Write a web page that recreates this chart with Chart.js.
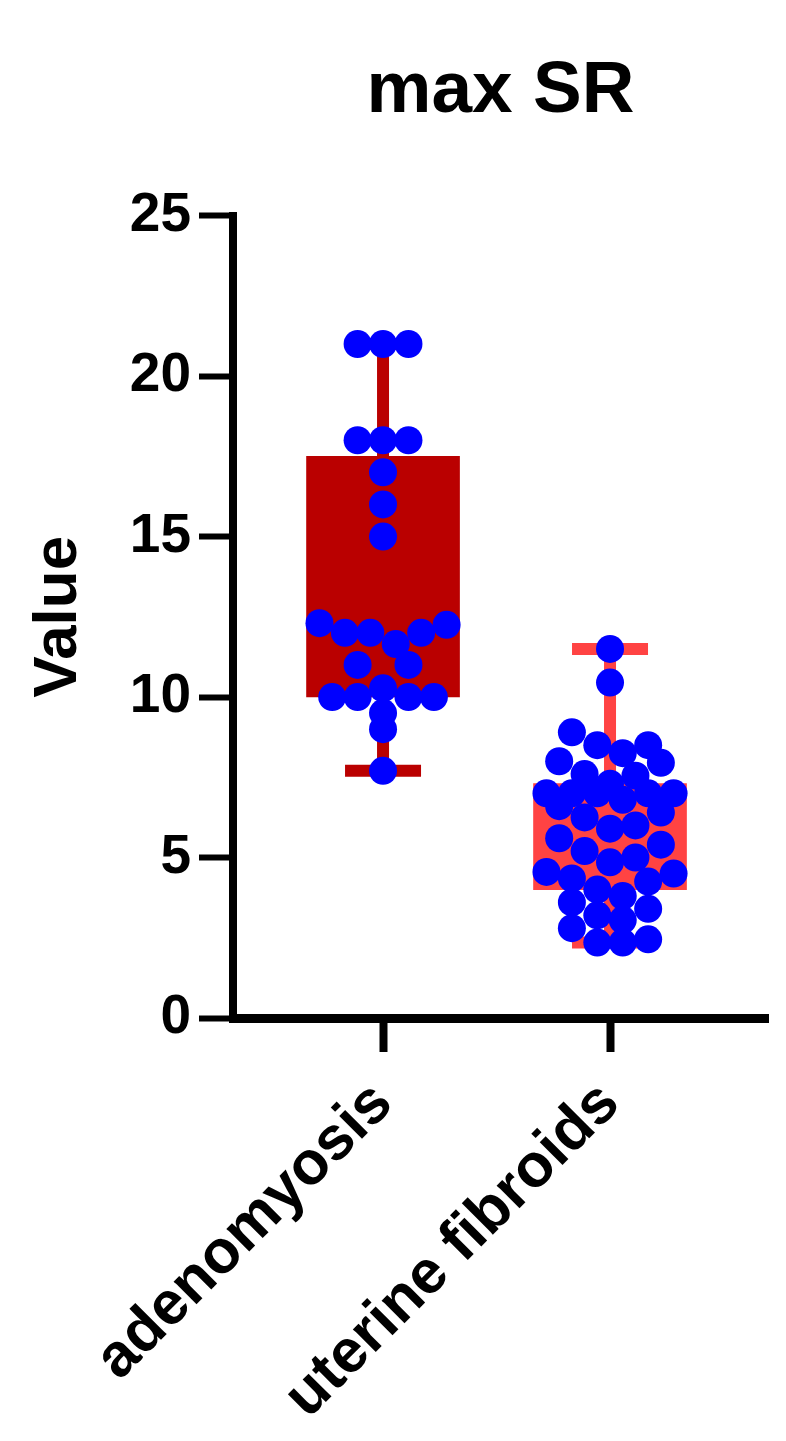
<!DOCTYPE html>
<html lang="en">
<head>
    <meta charset="UTF-8">
    <title>max SR</title>
    <script src="https://cdn.jsdelivr.net/npm/chart.js"></script>
    <style>
        body {
            margin: 0;
            background: #fff;
        }

        .chart-box {
            width: 786px;
            height: 1441px;
        }
    </style>
</head>
<body>
    <div class="chart-box">
        <canvas id="chart"></canvas>
    </div>

    <script>
        // values
        const categories = ['adenomyosis', 'uterine fibroids'];
        const adenomyosis = [21, 21, 21, 18, 18, 18, 17, 16, 15, 12.3, 12.25, 12, 12, 12, 11.65,
            11, 11, 10.27, 10, 10, 10, 10, 9.5, 9, 7.7];
        const fibroids = [11.5, 10.45, 8.9, 8.5, 8.5, 8.25, 8.0, 7.95, 7.6, 7.55, 7.3, 7.0, 7.0, 7.0,
            7.0, 7.0, 6.8, 6.6, 6.4, 6.25, 6.0, 5.9, 5.6, 5.4, 5.2, 5.0, 4.85, 4.55, 4.5, 4.35, 4.25,
            4.0, 3.8, 3.6, 3.4, 3.2, 3.05, 2.8, 2.45, 2.35, 2.35];
        const boxLow = [10, 4];
        const boxHigh = [17.5, 7.3];
        const whiskerLow = [7.7, 2.35];
        const whiskerHigh = [21, 11.5];
        const yTicks = [0, 5, 10, 15, 20, 25];

        const boxColors = ['#BA0000', '#FF4343'];
        const dotColor = '#0000FF';
        const font = "'Liberation Sans', Arial, sans-serif";

        // dots are binned into rows and spread sideways, outer slots first (like Prism)
        const BIN = 0.8, MAX_ROW = 6, SLOT = 0.112;

        function swarm(values, center) {
            const sorted = [...values].sort((a, b) => b - a);
            const rows = [];
            sorted.forEach(v => {
                const row = rows[rows.length - 1];
                if (row && row[0] - v < BIN && row.length < MAX_ROW) row.push(v);
                else rows.push([v]);
            });
            const points = [];
            rows.forEach(row => {
                const n = row.length;
                row.forEach((v, j) => {
                    const step = Math.floor(j / 2);
                    const side = j % 2 === 0 ? -1 : 1;
                    let k = (n - 1) / 2 - step;
                    if (n % 2 === 1 && j === n - 1) k = 0;
                    points.push({ x: center + side * k * SLOT, y: v });
                });
            });
            return points;
        }

        const whiskerPlugin = {
            id: 'whiskers',
            beforeDatasetsDraw(chart) {
                const { ctx, scales: { x, y } } = chart;
                ctx.save();
                ctx.lineWidth = 12;
                categories.forEach((c, i) => {
                    const cx = x.getPixelForValue(i);
                    ctx.strokeStyle = boxColors[i];
                    ctx.beginPath();
                    ctx.moveTo(cx, y.getPixelForValue(whiskerLow[i]));
                    ctx.lineTo(cx, y.getPixelForValue(whiskerHigh[i]));
                    ctx.stroke();
                    [whiskerLow[i], whiskerHigh[i]].forEach(v => {
                        const py = y.getPixelForValue(v);
                        ctx.beginPath();
                        ctx.moveTo(cx - 38, py);
                        ctx.lineTo(cx + 38, py);
                        ctx.stroke();
                    });
                });
                ctx.restore();
            }
        };

        const ctx = document.getElementById('chart').getContext('2d');
        new Chart(ctx, {
            type: 'bar',
            data: {
                datasets: [
                    {
                        type: 'scatter',
                        data: swarm(adenomyosis, 0),
                        backgroundColor: dotColor,
                        borderWidth: 0,
                        pointRadius: 14,
                        order: 1
                    },
                    {
                        type: 'scatter',
                        data: swarm(fibroids, 1),
                        backgroundColor: dotColor,
                        borderWidth: 0,
                        pointRadius: 14,
                        order: 1
                    },
                    {
                        data: categories.map((c, i) => ({ x: i, y: [boxLow[i], boxHigh[i]] })),
                        backgroundColor: boxColors,
                        borderWidth: 0,
                        barThickness: 153,
                        order: 2
                    }
                ]
            },
            options: {
                responsive: true,
                maintainAspectRatio: false,
                animation: false,
                layout: { padding: { left: 0, right: 18, top: 0, bottom: 0 } },
                plugins: {
                    legend: { display: false },
                    tooltip: { enabled: false },
                    title: {
                        display: true,
                        text: 'max SR',
                        fullSize: false,
                        color: '#000',
                        font: { family: font, size: 73, weight: 'bold' },
                        padding: { top: 48, bottom: 80 }
                    }
                },
                scales: {
                    x: {
                        type: 'linear',
                        min: -0.661,
                        max: 1.696,
                        offset: false,
                        afterBuildTicks: s => { s.ticks = categories.map((c, i) => ({ value: i })); },
                        afterFit: s => { s.height = 423; },
                        ticks: {
                            callback: v => categories[v],
                            color: '#000',
                            font: { family: font, size: 61, weight: 'bold' },
                            minRotation: 45,
                            maxRotation: 45,
                            autoSkip: false,
                            padding: 16
                        },
                        grid: { offset: false, drawOnChartArea: false, color: '#000', tickLength: 34, tickWidth: 8 },
                        border: { color: '#000', width: 9 }
                    },
                    y: {
                        min: 0,
                        max: 25,
                        afterBuildTicks: s => { s.ticks = yTicks.map(v => ({ value: v })); },
                        afterFit: s => { s.width = 233; },
                        ticks: {
                            color: '#000',
                            font: { family: font, size: 55, weight: 'bold' },
                            padding: 8
                        },
                        grid: { drawOnChartArea: false, color: '#000', tickLength: 34, tickWidth: 6 },
                        border: { color: '#000', width: 8 },
                        title: {
                            display: true,
                            text: 'Value',
                            color: '#000',
                            font: { family: font, size: 62, weight: 'bold' },
                            padding: { top: 22, bottom: 0 }
                        }
                    }
                }
            },
            plugins: [whiskerPlugin]
        });
    </script>
</body>
</html>
